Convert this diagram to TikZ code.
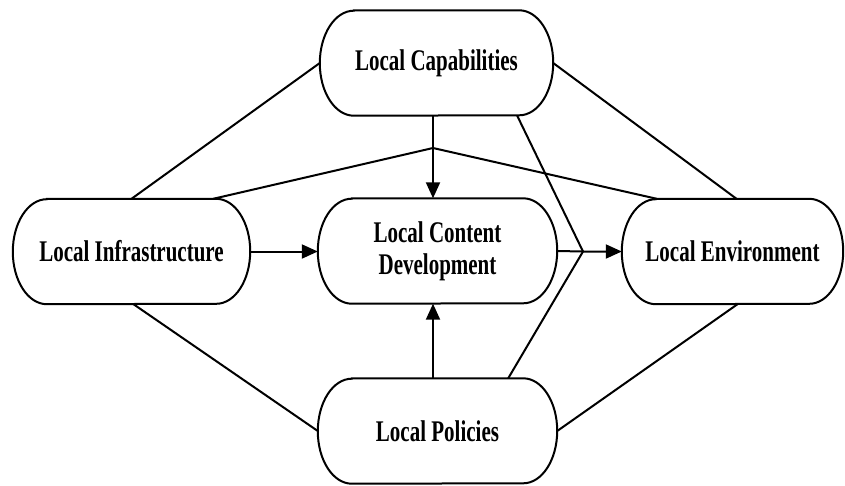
\documentclass[tikz,border=0pt]{standalone}
\usepackage{fontspec}
\newfontfamily\labfont{Liberation Serif}[FakeStretch=0.70]
\usetikzlibrary{arrows.meta}
\newcommand\stadiumborder[1]{%
  \draw[boxline] ([xshift=34pt]#1.north west) -- ([xshift=-34pt]#1.north east)
    arc[start angle=90,end angle=-90,x radius=34pt,y radius=52.5pt]
    -- ([xshift=34pt]#1.south west)
    arc[start angle=270,end angle=90,x radius=34pt,y radius=52.5pt] -- cycle;}
\tikzset{
  box/.style={rectangle,inner sep=0pt,minimum height=105pt,align=center,
    font=\labfont\bfseries\fontsize{30}{32}\selectfont},
  boxline/.style={line width=2pt,fill=white},
  conn/.style={line width=2pt,line join=miter},
  arr/.style={conn,-{Triangle[length=16pt,width=14pt]}}
}
\begin{document}
\begin{tikzpicture}[x=1pt,y=-1pt]
\useasboundingbox (0,0) rectangle (845,485);
\node[box,minimum width=233pt] (cap) at (436.5,63) {};
\node[box,minimum width=239pt] (cont) at (437.5,251) {};
\node[box,minimum width=237pt] (infra) at (131.5,251.5) {};
\node[box,minimum width=221pt] (env) at (732.5,251.5) {};
\node[box,minimum width=239pt] (pol) at (437.5,431) {};
\coordinate (apex) at (433,148);
\coordinate (junc) at (583,251.5);
% connectors
\draw[conn] (infra.north) -- (cap.west);
\draw[conn] ([xshift=-37pt]infra.north east) -- (apex) -- ([xshift=35pt]env.north west);
\draw[conn] (cap.east) -- ([xshift=4pt]env.north);
\draw[conn] ([xshift=-36pt]cap.south east) -- (junc);
\draw[conn] ([xshift=-49pt]pol.north east) -- (junc);
\draw[conn] ([xshift=2pt]infra.south) -- (pol.west);
\draw[conn] ([xshift=5pt]env.south) -- (pol.east);
\draw[arr] (cap.south -| apex) -- (cont.north -| apex);
\draw[arr] (pol.north -| apex) -- (cont.south -| apex);
\draw[arr] (infra.east) -- (cont.west |- infra.east);
\draw[arr] (cont.east) -- (junc) -- (env.west);
% borders
\stadiumborder{cap}
\stadiumborder{cont}
\stadiumborder{infra}
\stadiumborder{env}
\stadiumborder{pol}
% labels
\node[box] (capT) at (cap) {Local Capabilities};
\node[box] (contT) at (cont) {Local Content\\Development};
\node[box] (infraT) at (infra) {Local Infrastructure};
\node[box] (envT) at (env) {Local Environment};
\node[box] (polT) at (pol) {Local Policies};
\end{tikzpicture}
\end{document}
